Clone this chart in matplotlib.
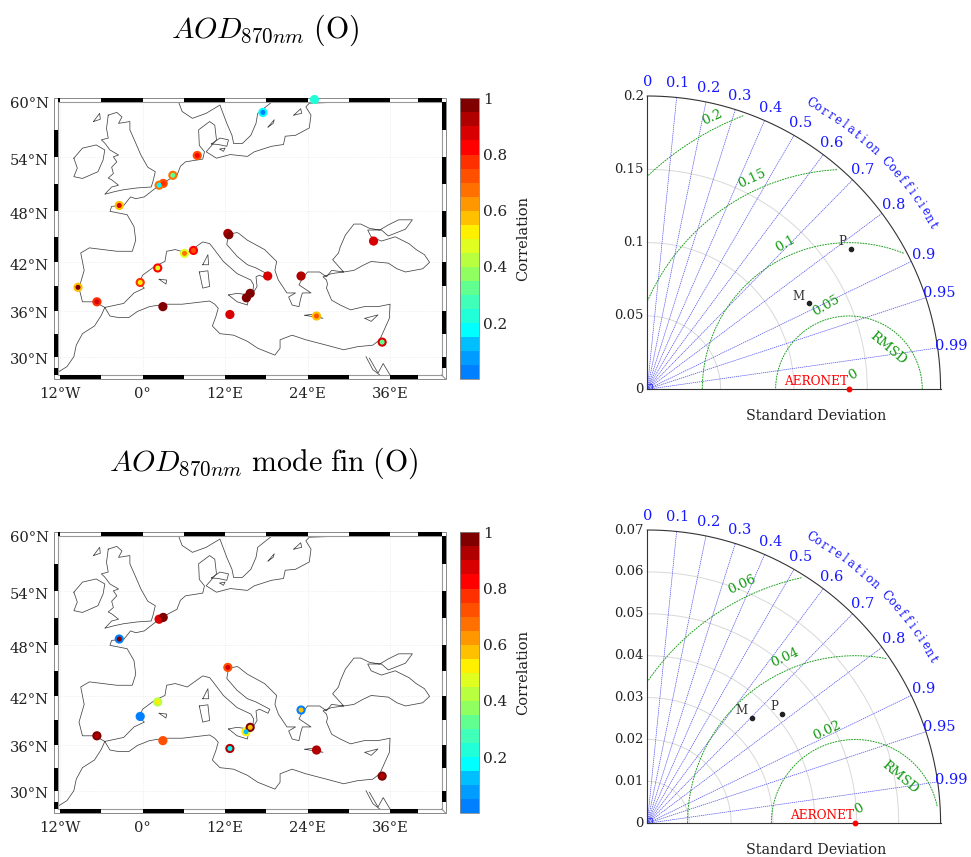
import numpy as np
import matplotlib
matplotlib.use('Agg')
from matplotlib import pyplot as plt
from matplotlib.colors import ListedColormap, Normalize
from matplotlib.cm import ScalarMappable
from matplotlib.patches import Rectangle
from matplotlib.transforms import ScaledTranslation

plt.rcParams['font.family'] = ['DejaVu Serif']
plt.rcParams['mathtext.fontset'] = 'cm'

W, H = 971, 857

# colour levels of the correlation bar, bottom to top
cbar_colors = ['#0080ff', '#009cff', '#00bfff', '#00ffff', '#20ffd7', '#40ffb8', '#60ff90',
               '#90ff60', '#b8ff40', '#e0ff20', '#fff000', '#ffc000', '#ff9800', '#ff7000',
               '#ff5000', '#ff3000', '#ff0000', '#d80000', '#b00000', '#800000']

lat_knots = [26, 27.6, 30, 36, 42, 48, 54, 60, 61]
lat_pos = [922, 885, 830, 692, 547, 394, 232, 67, 39.5]

# coastlines, lon / lat
coast_main = [(-12.25, 28), (-11, 28.7), (-10, 30), (-9.65, 31.5), (-8.75, 33), (-7, 34), (-6, 35.4), (-5.5, 36.4),
              (-4.75, 35.3), (-3.5, 35.1), (-2, 35.1), (-.75, 35.9), (1, 36.5), (3.25, 36.8), (5.75, 36.8), (7.75, 37),
              (9.75, 37.2), (10.5, 36.8), (11, 36.3), (10.65, 35.2), (10.15, 34), (11.25, 33), (13.25, 32.8), (15.25, 32),
              (16.75, 31.1), (19.25, 30.2), (20, 31.1), (20, 32.2), (21.75, 32.8), (23.75, 32.2), (26.75, 31.5),
              (29.25, 30.9), (31.25, 31.3), (33.5, 31.5), (34.5, 32.2), (35.25, 33.7), (35.9, 35), (36, 36.8),
              (34.25, 36.5), (32.25, 36.5), (30.25, 36.1), (28.75, 36.7), (27.5, 37.3), (27.1, 38.1), (26.75, 38.8),
              (26.9, 39.3), (26.75, 39.8), (26.25, 40.2), (27.5, 40.6), (29.25, 40.8), (30.75, 41), (32, 41.6),
              (33.25, 42.1), (35.75, 41.9), (37, 41.2), (38.25, 40.8), (40.75, 41.2), (41.75, 42), (41, 42.9),
              (39.8, 43.5), (38.75, 44.2), (36.75, 45), (34.75, 44.5), (33.25, 45), (32.75, 45.8), (34.75, 45.8),
              (35.75, 45.1), (38.25, 45.9), (39.25, 47), (37.25, 47), (35.75, 46.4), (34.5, 45.8), (33, 46),
              (31.75, 46.5), (30.75, 46.5), (29.5, 45.2), (28.75, 43.8), (28.5, 43.1), (27.65, 42.3), (28.5, 41.5),
              (29.25, 40.8), (27.5, 41), (26.75, 40.2), (25.75, 40.8), (24, 40.8), (23.25, 40), (22.75, 39.2),
              (24.5, 38.2), (23.25, 38.2), (23, 37.5), (22.75, 36.5), (21.75, 36.7), (21.25, 37.7), (22.25, 38.2),
              (21, 38.2), (19.75, 39.8), (19.25, 41), (19.5, 42.1), (17.75, 43.5), (15.25, 44.6), (14, 45.4),
              (13.75, 45.5), (12.5, 45.3), (12.25, 44.1), (13.75, 42.7), (15.25, 41.7), (16.5, 41.3), (18.5, 40.4),
              (18.25, 39.9), (17, 40.4), (16.5, 40.2), (16.65, 39), (16, 38.1), (16.15, 39.2), (15.75, 39.8),
              (13.75, 40.6), (11.75, 42.1), (10.25, 43.7), (9.75, 44.2), (8.75, 44.4), (6.5, 43.1), (4.75, 43.5),
              (3.5, 43.3), (3.25, 42.1), (1.75, 41.5), (0, 40.4), (-.5, 39.4), (.25, 38.8), (-1.25, 38.2),
              (-2.75, 36.9), (-5.5, 36.4), (-7, 37.1), (-8.75, 37.1), (-9.25, 38.8), (-8.5, 41), (-9, 43.1),
              (-7.75, 43.7), (-3.75, 43.3), (-1.5, 43.3), (-1, 44.6), (-1.25, 46.2), (-2.25, 47.6), (-4.75, 48),
              (-4.5, 48.55), (-2.75, 48.65), (-1.75, 49.6), (-1, 49.4), (.25, 49.6), (1.75, 50.5), (2.5, 50.9),
              (3.75, 51.5), (5, 52), (5.5, 53), (6.25, 53.5), (8.75, 53.8), (9, 54.6), (8.25, 55.3), (8.15, 57),
              (9.75, 57.9), (10.5, 57.5), (10.75, 55.9), (9.25, 54.6), (10.75, 53.9), (12.75, 54.3), (15.25, 54.1),
              (16.25, 54.6), (18.75, 55.2), (20.5, 55.4), (20.75, 56.3), (22.25, 56.4), (24.25, 57.2), (24.5, 58.6),
              (23.75, 59.5), (24.25, 59.9), (28.25, 60)]
coast_sweden = [(5.25, 60), (5.75, 59), (7.25, 58.25), (9.25, 58.8), (11.25, 59.7), (12.25, 57.7), (13, 56.4),
                (13.25, 55.5), (14.5, 55.5), (15.75, 56.4), (16.5, 57.7), (16.75, 58.8), (18.75, 60)]
coast_gb = [(-5, 58.6), (-3.75, 58.9), (-3, 58.4), (-3.5, 57.7), (-1.85, 57.9), (-1.85, 57), (-1, 55.55), (-.25, 54.25),
            (.75, 52.9), (1.85, 52.4), (1.5, 51.3), (1.25, 50.7), (-.75, 50.6), (-2.75, 50.4), (-4, 50.2), (-5.5, 49.9),
            (-4.5, 50.7), (-3.5, 50.9), (-4.5, 51.5), (-5, 51.7), (-4.25, 52.2), (-4.5, 52.9), (-3.75, 53.5),
            (-4.25, 54.05), (-3.5, 54.25), (-4.75, 54.8), (-5.5, 55.55), (-6, 55.9), (-5, 56.1), (-5.25, 57.15), (-5, 58.6)]
coast_ireland = [(-10, 53.9), (-8.75, 55), (-6.75, 55.35), (-5.5, 54.8), (-5.75, 53.7), (-6.5, 52.4), (-8.75, 51.65),
                 (-10, 51.85), (-9.5, 52.8), (-10, 53.9)]
coast_islands = [[(-7.15, 57.9), (-6.25, 58.8), (-6.15, 58.15), (-7.15, 57.9)],
                 [(8.75, 41.7), (9.5, 42.9), (9.6, 41.7), (8.75, 41.7)],
                 [(8.25, 40.8), (9.5, 40.95), (9.75, 39), (8.75, 38.8), (8.25, 40.8)],
                 [(2.4, 39.9), (3.5, 39.8), (3.4, 39.3), (2.4, 39.9)],
                 [(12.5, 37.95), (13.75, 38.15), (15.5, 37.95), (15.25, 36.7), (13.75, 37.1), (12.5, 37.95)],
                 [(23.6, 35.4), (24.5, 35.5), (26.25, 35), (23.6, 35.4)],
                 [(32.35, 35), (34.25, 35.45), (33.25, 34.6), (32.35, 35)],
                 [(10, 55.45), (11.25, 56.1), (12.5, 55.9), (12.25, 55.2), (11, 55.4), (10, 55.45)],
                 [(11.25, 54.9), (12, 55), (11.75, 54.65), (11.25, 54.9)],
                 [(18.25, 57.3), (19.15, 58.1), (19, 57.7), (18.25, 57.3)],
                 [(22, 58.6), (23, 59.3), (23.15, 58.8), (22, 58.6)],
                 [(32.5, 30), (33.5, 28.3), (34.5, 27.6)],
                 [(33, 29.8), (34.25, 27.85), (35, 29.1), (36, 27.6)]]

# stations: lon, lat, outer ring correlation, centre correlation
top_lon = [25, 17.5, 7.95, 4.4, 3.0, 2.4, -3.4, 12.4, 12.55, 33.6, 7.4, 6.1, 2.2, -.35, 18.2, 23.05, -9.4, -6.65, 15.65,
           15.1, 2.95, 12.7, 25.3, 34.85]
top_lat = [60.3, 58.9, 54.2, 52.0, 51.1, 50.9, 48.65, 45.4, 45.25, 44.5, 43.4, 43.05, 41.3, 39.5, 40.3, 40.3, 38.9, 37.1,
           38.15, 37.6, 36.5, 35.5, 35.3, 31.9]
top_outer = [.23, .15, .72, .68, .72, .65, .58, .92, .97, .85, .8, .47, .83, .75, .88, .93, .58, .75, .98, .97, 1., .88,
             .58, .88]
top_inner = [.23, .02, .8, .3, .75, .15, .85, .92, .97, .85, .72, .68, .47, .5, .85, .93, .97, .85, .98, .97, 1., .88,
             .72, .33]

bot_lon = [2.4, 3.0, -3.4, 12.4, 2.2, -.35, 23.05, 15.05, 15.65, -6.65, 2.95, 12.7, 25.3, 34.85]
bot_lat = [50.9, 51.1, 48.7, 45.4, 41.3, 39.5, 40.3, 37.6, 38.15, 37.1, 36.5, 35.5, 35.3, 31.9]
bot_outer = [.85, .98, .03, .72, .4, .03, .03, .5, .98, .97, .7, .9, .9, .97]
bot_inner = [.85, .98, .97, .85, .5, .03, .55, .1, .55, .92, .7, .15, .9, .9]

# taylor diagrams
corr_ticks = [0, .1, .2, .3, .4, .5, .6, .7, .8, .9, .95, .99]
corr_labels = ['0', '0.1', '0.2', '0.3', '0.4', '0.5', '0.6', '0.7', '0.8', '0.9', '0.95', '0.99']

top_rmax = .2
top_std = [.05, .1, .15, .2]
top_std_labels = ['0.05', '0.1', '0.15', '0.2']
top_rmsd = [.05, .1, .15, .2]
top_rmsd_labels = ['0.05', '0.1', '0.15', '0.2']
top_ref = .1375
top_models = {'M': (.1102, .0586), 'P': (.1386, .0955)}

bot_rmax = .07
bot_std = [.01, .02, .03, .04, .05, .06, .07]
bot_std_labels = ['0.01', '0.02', '0.03', '0.04', '0.05', '0.06', '0.07']
bot_rmsd = [.02, .04, .06]
bot_rmsd_labels = ['0.02', '0.04', '0.06']
bot_ref = .0496
bot_models = {'M': (.0249, .0251), 'P': (.0321, .0260)}

cmap = ListedColormap(cbar_colors)
norm = Normalize(0, 1)


def px_axes(fig, left, top, right, bottom):
    return fig.add_axes([left / W, 1 - bottom / H, (right - left) / W, (bottom - top) / H])


def lat_forward(y):
    return np.interp(y, lat_knots, -np.array(lat_pos))


def lat_inverse(p):
    return np.interp(p, -np.array(lat_pos), lat_knots)


def plot_map(fig, top, lons, lats, outer, inner):
    ax = px_axes(fig, 58.4, top + 4, 441.6, top + 276.7)
    ax.set_yscale('function', functions=(lat_forward, lat_inverse))
    ax.set_xlim(-12.25, 43.5)
    ax.set_ylim(27.6, 60)

    for seg in [coast_main, coast_sweden, coast_gb, coast_ireland] + coast_islands:
        seg = np.array(seg)
        ax.plot(seg[:, 0], seg[:, 1], color='#444444', lw=.55, solid_joinstyle='round', zorder=2)

    ax.set_xticks([-12, 0, 12, 24, 36])
    ax.set_xticklabels(['12°W', '0°', '12°E', '24°E', '36°E'], fontsize=10.6)
    ax.set_yticks([30, 36, 42, 48, 54, 60])
    ax.set_yticklabels(['30°N', '36°N', '42°N', '48°N', '54°N', '60°N'], fontsize=10.6)
    ax.tick_params(length=0, colors='#222222')
    ax.tick_params(axis='x', pad=9)
    ax.tick_params(axis='y', pad=7)
    shift = ScaledTranslation(0, -1.5 / 72, fig.dpi_scale_trans)
    for lab in ax.get_yticklabels()[:-1]:
        lab.set_transform(lab.get_transform() + shift)
    ax.grid(color='#e4e4e4', lw=.5, ls=':')
    ax.set_axisbelow(True)
    for sp in ax.spines.values():
        sp.set_color('#999999')
        sp.set_linewidth(.8)

    # checkered border, 4 px wide
    dx = 4 / 383.2
    dy = 4 / 272.7
    xtr = ax.get_xaxis_transform()
    ytr = ax.get_yaxis_transform()
    lon_top = [(-12.25, -12), (-6, 0), (6, 12), (18, 24), (30, 36), (40, 43.5)]
    lon_bot = [(-12, -6), (0, 6), (12, 18), (24, 30), (36, 40)]
    lat_left = [(54, 57), (48, 51), (42, 45), (36, 39), (30, 33), (27.6, 28.5)]
    lat_right = [(57, 60), (51, 54), (45, 48), (39, 42), (33, 36), (28.5, 30)]
    for a, b in lon_top:
        ax.add_patch(Rectangle((a, 1), b - a, dy, transform=xtr, color='black', clip_on=False, lw=0, zorder=4))
    for a, b in lon_bot:
        ax.add_patch(Rectangle((a, -dy), b - a, dy, transform=xtr, color='black', clip_on=False, lw=0, zorder=4))
    for a, b in lat_left:
        ax.add_patch(Rectangle((-dx, a), dx, b - a, transform=ytr, color='black', clip_on=False, lw=0, zorder=4))
    for a, b in lat_right:
        ax.add_patch(Rectangle((1, a), dx, b - a, transform=ytr, color='black', clip_on=False, lw=0, zorder=4))
    ax.add_patch(Rectangle((-dx, -dy), 1 + 2 * dx, 1 + 2 * dy, transform=ax.transAxes, fill=False, ec='#888888',
                           lw=.7, clip_on=False, zorder=3))
    ax.plot([1, 1 + dx], [0, -dy], transform=ax.transAxes, color='#888888', lw=.7, clip_on=False, zorder=3)

    ax.scatter(lons, lats, c=outer, cmap=cmap, norm=norm, s=44, linewidths=0, clip_on=False, zorder=5)
    ax.scatter(lons, lats, c=inner, cmap=cmap, norm=norm, s=13, linewidths=0, clip_on=False, zorder=6)

    cax = px_axes(fig, 459.8, top, 478.7, top + 281)
    cb = fig.colorbar(ScalarMappable(norm=norm, cmap=cmap), cax=cax)
    cb.set_ticks([.2, .4, .6, .8, 1])
    cb.set_ticklabels(['0.2', '0.4', '0.6', '0.8', '1'])
    cb.ax.tick_params(length=0, pad=3, labelsize=11, colors='#222222')
    cb.outline.set_edgecolor('#888888')
    cb.outline.set_linewidth(.6)
    fig.text(523 / W, 1 - (top + 140) / H, 'Correlation', rotation=90, ha='center', va='center', fontsize=10.5,
             color='#222222')


def plot_taylor(fig, y0, rmax, std, std_labels, rmsd, rmsd_labels, ref, models, green_pos, rms_pos, ref_lab, m_off):
    R = 293.3
    ax = px_axes(fig, 647.3, y0 - R, 647.3 + R, y0)
    ax.set_xlim(0, rmax)
    ax.set_ylim(0, rmax)
    ax.axis('off')
    t = np.linspace(0, np.pi / 2, 300)

    # std arcs
    for r, lab in zip(std, std_labels):
        if r < rmax:
            ax.plot(r * np.cos(t), r * np.sin(t), color='#d8d8d8', lw=.7, clip_on=False)
        ax.text(-.012 * rmax, r, lab, ha='right', va='center', fontsize=9.5, color='#222222')
    ax.text(-.012 * rmax, 0, '0', ha='right', va='center', fontsize=9.5, color='#222222')

    # correlation rays
    for c, lab in zip(corr_ticks, corr_labels):
        a = np.arccos(c)
        if c > 0:
            ax.plot([0, rmax * np.cos(a)], [0, rmax * np.sin(a)], color='#5050f0', lw=.5, ls=(0, (2, 1)), clip_on=False)
        ax.text(1.048 * rmax * np.cos(a), 1.048 * rmax * np.sin(a), lab, ha='center', va='center', fontsize=10.5,
                color='#1818ff', clip_on=False)
    ax.add_patch(Rectangle((0, 0), .017 * rmax, .017 * rmax, fill=False, ec='#3c3cf0', lw=.8, clip_on=False))

    # rmsd circles, cut just inside the outer arc
    th = np.linspace(0, np.pi, 900)
    for r, lab, (lx, ly, rot) in zip(rmsd, rmsd_labels, green_pos):
        x = ref + r * np.cos(th)
        y = r * np.sin(th)
        keep = (x >= 0) & (np.hypot(x, y) <= .99 * rmax)
        ax.plot(x[keep], y[keep], color='#109a10', lw=.65, ls=(0, (2, 1)), clip_on=False)
        ax.text(lx, ly, lab, rotation=rot, ha='center', va='center', fontsize=9.5, color='#109a10')
    ax.text(ref + .014 * rmax, .05 * rmax, '0', rotation=30, ha='center', va='center', fontsize=9.5, color='#109a10')
    ax.text(rms_pos[0], rms_pos[1], 'RMSD', rotation=-40, ha='center', va='center', fontsize=9.5, color='#109a10',
            rotation_mode='anchor')

    # frame
    ax.plot(rmax * np.cos(t), rmax * np.sin(t), color='#333333', lw=.8, clip_on=False)
    ax.plot([0, 0], [0, rmax], color='#333333', lw=.8, clip_on=False)
    ax.plot([0, rmax], [0, 0], color='#333333', lw=.8, clip_on=False)

    # curved axis title
    title = 'Correlation Coefficient'
    angles = np.linspace(60.3, 29.9, len(title))
    for ch, ang in zip(title, angles):
        a = np.deg2rad(ang)
        ax.text(1.124 * rmax * np.cos(a), 1.124 * rmax * np.sin(a), ch, rotation=ang - 90, ha='center', va='center',
                fontsize=8.5, color='#1818ff', rotation_mode='anchor')

    # points
    ax.plot([ref], [0], 'o', color='red', ms=3.2, clip_on=False, zorder=6)
    ax.text(ref_lab[0], ref_lab[1], 'AERONET', color='red', ha='center', va='center', fontsize=8.7)
    for name, (x, y) in models.items():
        ax.plot([x], [y], 'o', color='#222222', ms=3, zorder=6)
        ax.text(x + m_off[name][0], y + m_off[name][1], name, ha='center', va='center', fontsize=8.5, color='#333333')
    fig.text(815.7 / W, 1 - (y0 + 27) / H, 'Standard Deviation', ha='center', va='center', fontsize=10.3,
             color='#222222')


fig = plt.figure(figsize=(W / 100, H / 100), dpi=100)

plot_map(fig, 98.3, top_lon, top_lat, top_outer, top_inner)
plot_map(fig, 532.3, bot_lon, bot_lat, bot_outer, bot_inner)

fig.text(265 / W, 1 - 30 / H, r'$AOD_{870nm}\ \mathrm{(O)}$', ha='center', va='center', fontsize=21.5)
fig.text(264 / W, 1 - 463 / H, r'$AOD_{870nm}\ \mathrm{mode\ fin\ (O)}$', ha='center', va='center', fontsize=21.5)

plot_taylor(fig, 389.3, top_rmax, top_std, top_std_labels, top_rmsd, top_rmsd_labels, top_ref, top_models,
            [(.1218, .0568, 30), (.0943, .0993, 30), (.0716, .1436, 25), (.0439, .1852, 25)],
            (.1643, .0280), (.1150, .0052), {'M': (-.0068, .005), 'P': (-.0055, .0052)})
plot_taylor(fig, 823.3, bot_rmax, bot_std, bot_std_labels, bot_rmsd, bot_rmsd_labels, bot_ref, bot_models,
            [(.0428, .0220, 25), (.0329, .0395, 25), (.0227, .0569, 25)],
            (.0603, .0111), (.0417, .0019), {'M': (-.0024, .0018), 'P': (-.0019, .0018)})

fig.savefig('out.png', dpi=100)
